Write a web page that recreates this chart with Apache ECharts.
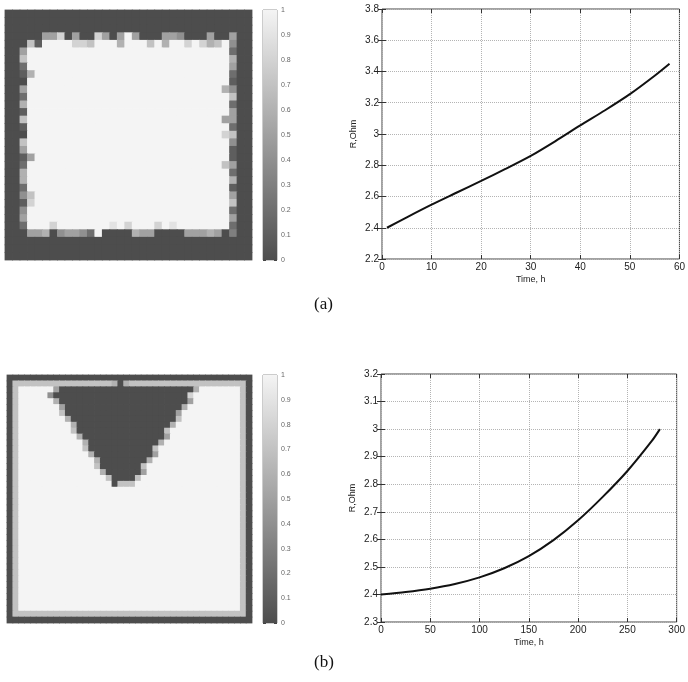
<!DOCTYPE html>
<html>
<head>
<meta charset="utf-8">
<script src="https://cdn.jsdelivr.net/npm/echarts/dist/echarts.min.js"></script>
<style>
  html, body { margin: 0; padding: 0; background: #fff; }
  #chart { width: 688px; height: 682px; }
</style>
</head>
<body>
<div id="chart"></div>
<script>
// ---- (a) 网格数据, 十分位 (0..10) ----
const colsA = 33
const rowsA = 33
const topRowA = [0, 0, 0, 5, 5, 8, 0, 5, 0, 0, 8, 5, 0, 5, 10, 5, 0, 0, 0, 5, 5, 4, 0, 0, 0, 5, 0, 0, 5] // row 3, cols 2..30
const secondRowA = [0, 7, 1, 10, 10, 10, 10, 8, 8, 7, 10, 10, 10, 6, 10, 10, 10, 7, 10, 6, 10, 10, 8, 10, 8, 6, 7, 10, 4] // row 4
const aboveBottomRowA = [2, 10, 10, 10, 8, 10, 10, 10, 10, 10, 10, 10, 9, 10, 8, 10, 10, 10, 8, 10, 9, 10, 10, 10, 10, 10, 10, 10, 2] // row 28
const bottomRowA = [0, 5, 5, 6, 0, 4, 5, 5, 4, 2, 10, 0, 0, 0, 0, 6, 5, 5, 0, 0, 0, 0, 5, 5, 5, 6, 5, 0, 3] // row 29
const leftColA = [5, 7, 2, 1, 0, 5, 2, 6, 1, 7, 1, 0, 7, 5, 1, 2, 6, 6, 2, 4, 1, 4, 5] // col 2, rows 5..27
const rightColA = [2, 6, 5, 2, 1, 4, 7, 2, 5, 5, 2, 7, 4, 1, 1, 5, 2, 6, 1, 5, 7, 2, 5] // col 30, rows 5..27
const specksA = [[8, 3, 6], [19, 3, 5], [24, 3, 7], [25, 3, 8], [10, 29, 6], [14, 29, 5], [16, 29, 8], [20, 29, 7]]

// ---- (b) 网格数据 ----
const colsB = 42
const rowsB = 42
const rimB = 7 // light frame value
const notchB = [[1, 18, 6], [1, 19, 0], [1, 20, 6]]
const triFirstRowB = 2
const triStartB = [9, 8, 9, 10, 10, 11, 12, 12, 13, 14, 14, 15, 16, 16, 17, 18, 18]
const triEndB = [31, 30, 30, 29, 28, 28, 27, 26, 26, 25, 24, 24, 23, 22, 22, 21, 18]
const triLeftB = [5, 4, 6, 5, 7, 6, 6, 7, 6, 6, 7, 6, 6, 7, 6, 7, -1]
const triRightB = [6, 8, 5, 6, 5, 7, 6, 7, 5, 6, 7, 5, 6, 7, 5, 7, 7]
const apexB = [[18, 20, 7], [18, 21, 7]]

// ---- 曲线数据 ----
const timeA = [1, 5, 10, 15, 20, 25, 30, 35, 40, 45, 50, 55, 58]
const resA = [2.40, 2.467, 2.548, 2.624, 2.70, 2.778, 2.86, 2.955, 3.055, 3.152, 3.255, 3.373, 3.45]
const timeB = [0, 25, 50, 75, 100, 125, 150, 175, 200, 225, 250, 275, 283]
const resB = [2.400, 2.409, 2.421, 2.438, 2.462, 2.495, 2.539, 2.597, 2.669, 2.754, 2.848, 2.958, 3.000]

const grayRamp = ['#4d4d4d', '#f4f4f4']
const font = 'Liberation Sans'

function toCells(g) {
    const out = []
    g.forEach((row, r) => row.forEach((v, c) => out.push([c, r, v / 10])))
    return out
}

function buildA() {
    const g = []
    for (let r = 0; r < rowsA; r++) {
        g.push([])
        for (let c = 0; c < colsA; c++) {
            g[r].push(r >= 3 && r <= 29 && c >= 2 && c <= 30 ? 10 : 0)
        }
    }
    topRowA.forEach((v, i) => { g[3][i + 2] = v })
    secondRowA.forEach((v, i) => { g[4][i + 2] = v })
    aboveBottomRowA.forEach((v, i) => { g[28][i + 2] = v })
    bottomRowA.forEach((v, i) => { g[29][i + 2] = v })
    leftColA.forEach((v, i) => { g[i + 5][2] = v })
    rightColA.forEach((v, i) => { g[i + 5][30] = v })
    specksA.forEach(([r, c, v]) => { g[r][c] = v })
    return toCells(g)
}

function buildB() {
    const g = []
    for (let r = 0; r < rowsB; r++) {
        g.push([])
        for (let c = 0; c < colsB; c++) {
            let v = 10
            if (r === 0 || c === 0 || r === rowsB - 1 || c === colsB - 1) v = 0
            else if (r === 1 || c === 1 || r === rowsB - 2 || c === colsB - 2) v = rimB
            g[r].push(v)
        }
    }
    notchB.forEach(([r, c, v]) => { g[r][c] = v })
    triStartB.forEach((s, i) => {
        const r = triFirstRowB + i
        for (let c = s; c <= triEndB[i]; c++) g[r][c] = 0
        if (triLeftB[i] >= 0) g[r][s - 1] = triLeftB[i]
        if (triRightB[i] >= 0) g[r][triEndB[i] + 1] = triRightB[i]
    })
    apexB.forEach(([r, c, v]) => { g[r][c] = v })
    return toCells(g)
}

const idx = n => Array.from({ length: n }, (_, i) => i)

// 单元格稍微放大, 避免细缝
function cellItem(params, api) {
    const p = api.coord([api.value(0), api.value(1)])
    const s = api.size([1, 1])
    return {
        type: 'rect',
        shape: { x: p[0] - s[0] / 2 - 0.4, y: p[1] - s[1] / 2 - 0.4, width: s[0] + 0.8, height: s[1] + 0.8 },
        style: { fill: api.visual('color') }
    }
}

function heatAxes(grid, n, isY) {
    return { gridIndex: grid, type: 'category', data: idx(n), show: false, inverse: !!isY }
}

function barX(grid) {
    return { gridIndex: grid, type: 'category', data: ['c'], show: false }
}

function barY(grid, side, labels) {
    return {
        gridIndex: grid, type: 'value', min: 0, max: 1, interval: 0.1, position: side,
        axisLine: { show: false },
        axisTick: { show: true, inside: true, length: 3, lineStyle: { color: '#444' } },
        axisLabel: { show: labels, fontSize: 7, color: '#666', margin: 4, fontFamily: font },
        splitLine: { show: false }
    }
}

function lineX(grid, max, step, top, name) {
    return {
        gridIndex: grid, type: 'value', min: 0, max: max, interval: step,
        position: top ? 'top' : 'bottom',
        name: top ? '' : name, nameLocation: 'middle', nameGap: 16,
        nameTextStyle: { fontSize: 9, color: '#222', fontFamily: font },
        axisLine: { show: false },
        axisTick: { show: true, inside: true, length: 4, lineStyle: { color: '#333' } },
        axisLabel: { show: !top, fontSize: 10, color: '#222', margin: 3, fontFamily: font },
        splitLine: { show: !top, lineStyle: { type: 'dotted', color: '#b4b4b4' } }
    }
}

function lineY(grid, min, max, step, right, name) {
    return {
        gridIndex: grid, type: 'value', min: min, max: max, interval: step,
        position: right ? 'right' : 'left',
        name: right ? '' : name, nameLocation: 'middle', nameGap: 24,
        nameTextStyle: { fontSize: 9, color: '#222', fontFamily: font },
        axisLine: { show: false },
        axisTick: { show: true, inside: true, length: 4, lineStyle: { color: '#333' } },
        axisLabel: { show: !right, fontSize: 10, color: '#222', margin: 3, fontFamily: font },
        splitLine: { show: !right, lineStyle: { type: 'dotted', color: '#b4b4b4' } }
    }
}

const gradient = {
    type: 'linear', x: 0, y: 0, x2: 0, y2: 1,
    colorStops: [{ offset: 0, color: grayRamp[1] }, { offset: 1, color: grayRamp[0] }]
}

const chart = echarts.init(document.getElementById('chart'), null, { renderer: 'canvas' })

chart.setOption({
    backgroundColor: '#fff',
    animation: false,
    title: [
        { text: '(a)', left: 309, top: 291, textStyle: { fontFamily: 'Liberation Serif', fontSize: 17, fontWeight: 'normal', color: '#111' } },
        { text: '(b)', left: 309, top: 649, textStyle: { fontFamily: 'Liberation Serif', fontSize: 17, fontWeight: 'normal', color: '#111' } }
    ],
    grid: [
        { left: 5, top: 10, width: 247, height: 250 },
        { left: 263, top: 10, width: 14, height: 250, show: true, borderColor: '#999', borderWidth: 1 },
        { left: 382, top: 9, width: 301, height: 250, show: true, borderColor: '#444', borderWidth: 1 },
        { left: 7, top: 375, width: 245, height: 248 },
        { left: 263, top: 375, width: 14, height: 248, show: true, borderColor: '#999', borderWidth: 1 },
        { left: 381, top: 374, width: 300, height: 248, show: true, borderColor: '#444', borderWidth: 1 }
    ],
    xAxis: [
        heatAxes(0, colsA),
        barX(1),
        lineX(2, 60, 10, false, 'Time, h'),
        lineX(2, 60, 10, true),
        heatAxes(3, colsB),
        barX(4),
        lineX(5, 300, 50, false, 'Time, h'),
        lineX(5, 300, 50, true)
    ],
    yAxis: [
        heatAxes(0, rowsA, true),
        barY(1, 'right', true),
        barY(1, 'left', false),
        lineY(2, 2.2, 3.8, 0.2, false, 'R,Ohm'),
        lineY(2, 2.2, 3.8, 0.2, true),
        heatAxes(3, rowsB, true),
        barY(4, 'right', true),
        barY(4, 'left', false),
        lineY(5, 2.3, 3.2, 0.1, false, 'R,Ohm'),
        lineY(5, 2.3, 3.2, 0.1, true)
    ],
    visualMap: [
        { show: false, seriesIndex: 0, dimension: 2, min: 0, max: 1, inRange: { color: grayRamp } },
        { show: false, seriesIndex: 3, dimension: 2, min: 0, max: 1, inRange: { color: grayRamp } }
    ],
    series: [
        { type: 'custom', xAxisIndex: 0, yAxisIndex: 0, data: buildA(), renderItem: cellItem, encode: { x: 0, y: 1 }, silent: true },
        { type: 'bar', xAxisIndex: 1, yAxisIndex: 1, data: [1], barWidth: '100%', itemStyle: { color: gradient }, silent: true },
        {
            type: 'line', xAxisIndex: 2, yAxisIndex: 3, showSymbol: false, smooth: 0.25,
            data: timeA.map((t, i) => [t, resA[i]]),
            lineStyle: { color: '#111', width: 2 }
        },
        { type: 'custom', xAxisIndex: 4, yAxisIndex: 5, data: buildB(), renderItem: cellItem, encode: { x: 0, y: 1 }, silent: true },
        { type: 'bar', xAxisIndex: 5, yAxisIndex: 6, data: [1], barWidth: '100%', itemStyle: { color: gradient }, silent: true },
        {
            type: 'line', xAxisIndex: 6, yAxisIndex: 8, showSymbol: false, smooth: 0.25,
            data: timeB.map((t, i) => [t, resB[i]]),
            lineStyle: { color: '#111', width: 2 }
        }
    ]
})
</script>
</body>
</html>
